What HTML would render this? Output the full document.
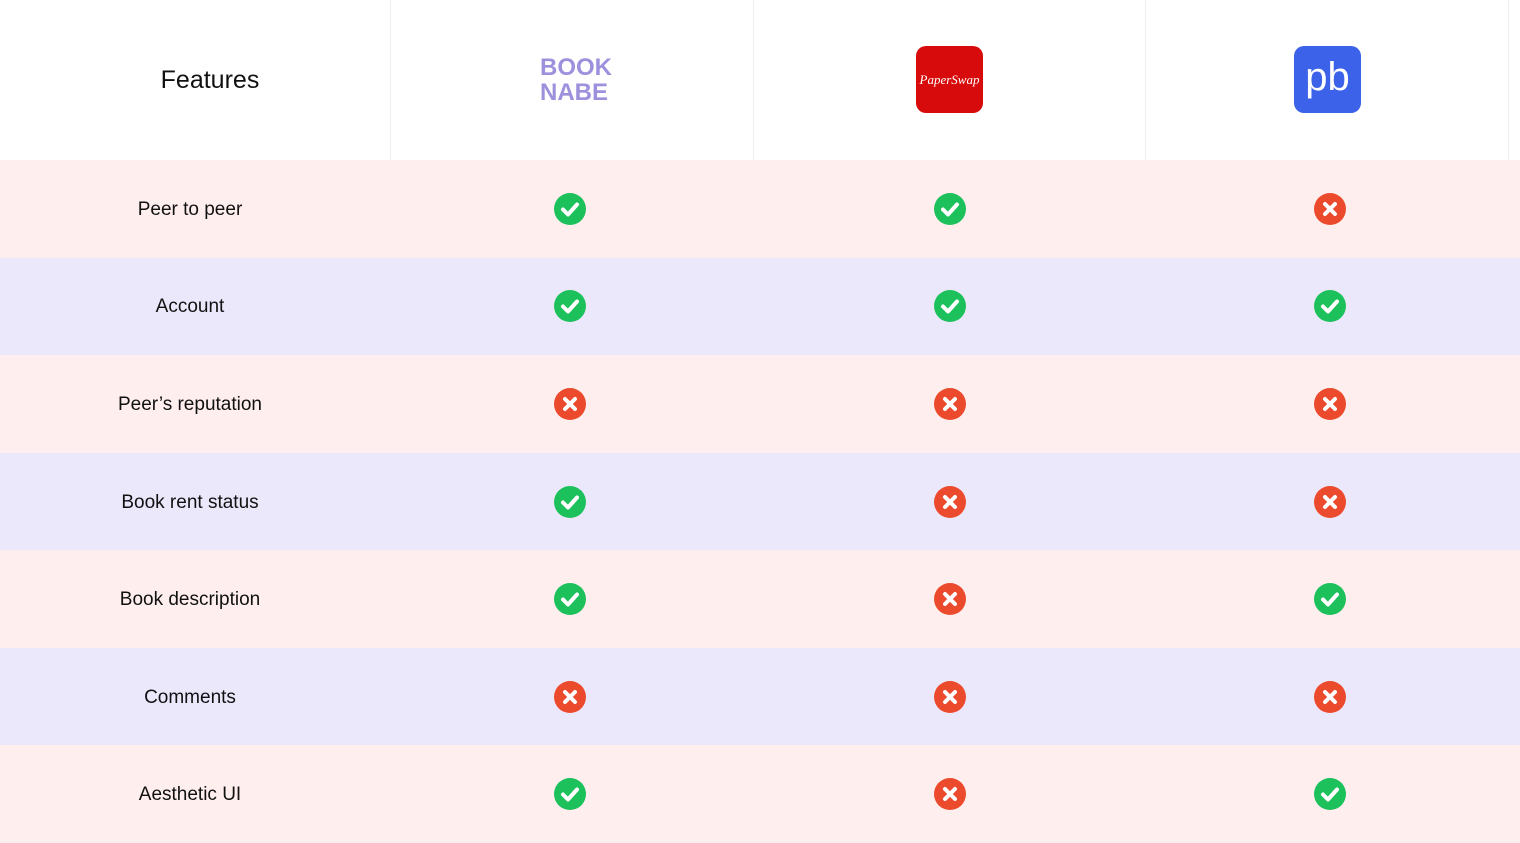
<!DOCTYPE html>
<html><head><meta charset="utf-8"><style>
body{margin:0;width:1520px;height:843px;background:#fff;font-family:"Liberation Sans",sans-serif;position:relative;overflow:hidden}
.abs{position:absolute}
.hdr{top:0;height:160px;border-right:1px solid #eeeef4;box-sizing:border-box}
.row{left:0;width:1520px}
.lbl{width:380px;text-align:center;font-size:19px;color:#111;left:0}
.ic{width:32px;height:32px;border-radius:50%}
</style></head><body>
<div class="abs hdr" style="left:0;width:391px"></div>
<div class="abs hdr" style="left:391px;width:363px"></div>
<div class="abs hdr" style="left:754px;width:392px"></div>
<div class="abs hdr" style="left:1146px;width:363px"></div>
<div class="abs" style="left:0;width:420px;top:66px;text-align:center;font-size:25px;color:#111">Features</div>
<div class="abs" style="left:540px;top:55px;font-size:24px;font-weight:bold;color:#9d90dd;line-height:25px;letter-spacing:0px">BOOK<br>NABE</div>
<div class="abs" style="left:916px;top:46px;width:67px;height:67px;border-radius:10px;background:#d70b0b;color:#fff;font-family:'Liberation Serif',serif;font-style:italic;font-size:13px;line-height:67px;text-align:center">PaperSwap</div>
<div class="abs" style="left:1294px;top:46px;width:67px;height:67px;border-radius:10px;background:#3b62e8;color:#fff;font-size:40px;line-height:62px;text-align:center">pb</div>
<div id="rows"></div>
<script>
const features=["Peer to peer","Account","Peer’s reputation","Book rent status","Book description","Comments","Aesthetic UI"];
const booknabe=[1,1,0,1,1,0,1];
const paperswap=[1,1,0,0,0,0,0];
const pb=[0,1,0,0,1,0,1];
const cols=[booknabe,paperswap,pb];
const colX=[570,950,1330];
const top0=160,rh=(843-160)/features.length;
const root=document.getElementById('rows');
features.forEach((f,i)=>{
  const r=document.createElement('div');r.className='abs row';
  r.style.top=(top0+i*rh)+'px';r.style.height=rh+'px';r.style.background=i%2?'#ece8fc':'#ffeeee';
  
  
  root.appendChild(r);
  const l=document.createElement('div');l.className='abs lbl';l.textContent=f;
  l.style.top=(top0+i*rh+rh/2-10)+'px';
  
  
  root.appendChild(l);
  cols.forEach((c,j)=>{
    const ic=document.createElement('div');ic.className='abs ic';
    const ok=c[i]===1;
    ic.style.left=(colX[j]-16)+'px';ic.style.top=(top0+i*rh+rh/2-16)+'px';
    ic.style.background=ok?'#1dc15c':'#ec4a2c';
    ic.innerHTML=ok?'<svg width="32" height="32"><path d="M9 16.5l5 5 9-10" stroke="#fff" stroke-width="4" fill="none" stroke-linecap="round" stroke-linejoin="round"/></svg>':'<svg width="32" height="32"><path d="M11 11l10 10M21 11l-10 10" stroke="#fff" stroke-width="4" stroke-linecap="round"/></svg>';
    
    
    root.appendChild(ic);
  });
});
</script>
</body></html>
